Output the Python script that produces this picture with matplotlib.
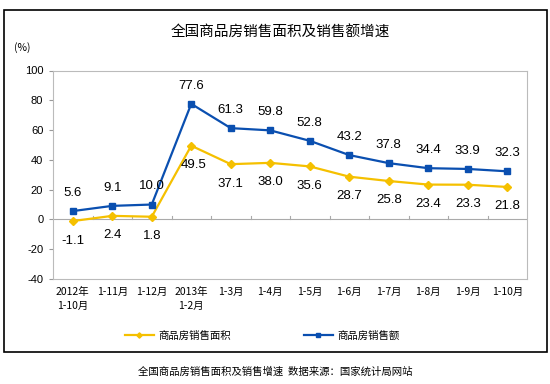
import matplotlib.pyplot as plt
from matplotlib.patches import Rectangle

plt.rcParams['font.family'] = ['Noto Sans CJK SC', 'DejaVu Sans']

# ---------- data ----------
categories = ["2012年\n1-10月", "1-11月", "1-12月", "2013年\n1-2月", "1-3月", "1-4月",
              "1-5月", "1-6月", "1-7月", "1-8月", "1-9月", "1-10月"]
area_growth = [-1.1, 2.4, 1.8, 49.5, 37.1, 38.0, 35.6, 28.7, 25.8, 23.4, 23.3, 21.8]
sales_growth = [5.6, 9.1, 10.0, 77.6, 61.3, 59.8, 52.8, 43.2, 37.8, 34.4, 33.9, 32.3]
yticks = [-40, -20, 0, 20, 40, 60, 80, 100]

YELLOW = "#F5C000"
BLUE = "#0A4FB0"

fig = plt.figure(figsize=(5.5, 3.84), dpi=100)
ax = fig.add_axes([53 / 550, 105 / 384, 474 / 550, 208.5 / 384])

x = list(range(len(categories)))
ax.plot(x, area_growth, color=YELLOW, lw=1.6, marker="D", ms=4.5,
        label="商品房销售面积")
ax.plot(x, sales_growth, color=BLUE, lw=1.6, marker="s", ms=4.5,
        label="商品房销售额")

num_font = ["Liberation Sans", "DejaVu Sans"]
for i, v in enumerate(sales_growth):
    ax.annotate(f"{v:.1f}", (i, v), xytext=(0, 13), textcoords="offset points",
                ha="center", va="center", fontsize=9.5, family=num_font)
for i, v in enumerate(area_growth):
    ax.annotate(f"{v:.1f}", (i, v), xytext=(2 if i == 3 else 0, -14),
                textcoords="offset points", ha="center", va="center",
                fontsize=9.5, family=num_font)

ax.set_xlim(-0.5, len(categories) - 0.5)
ax.set_ylim(-40, 100)
ax.set_yticks(yticks)
ax.set_yticklabels([str(t) for t in yticks], family=num_font, fontsize=8)
ax.tick_params(axis="y", length=3, color="#999999", pad=4)

# zero line with small category ticks
ax.axhline(0, color="#aaaaaa", lw=0.8, zorder=0)
for b in range(1, len(categories)):
    ax.plot([b - 0.5, b - 0.5], [0, 2.5], color="#aaaaaa", lw=0.8, zorder=0)

ax.set_xticks([])
for i, c in enumerate(categories):
    ax.text(i, -45.5, c, ha="center", va="top", fontsize=7.5, linespacing=1.4,
            transform=ax.transData, clip_on=False)

for s in ax.spines.values():
    s.set_color("#bbbbbb")
    s.set_linewidth(0.8)

# outer frame, title, unit, legend, caption
fig.patches.append(Rectangle((4 / 550, 1 - 352 / 384), 543 / 550, 342 / 384,
                             transform=fig.transFigure, fill=False,
                             edgecolor="black", lw=1.2))
fig.text(280 / 550, 1 - 33 / 384, "全国商品房销售面积及销售额增速",
         ha="center", va="center", fontsize=10.5)
fig.text(22 / 550, 1 - 48 / 384, "(%)", ha="center", va="center", fontsize=7.5)
fig.legend(loc="center", bbox_to_anchor=(262 / 550, 1 - 336 / 384), ncol=2,
           frameon=False, fontsize=7.5, columnspacing=7, handlelength=2.8,
           handletextpad=0.4, markerscale=0.6)
fig.text(275 / 550, 1 - 372 / 384, "全国商品房销售面积及销售增速  数据来源：国家统计局网站",
         ha="center", va="center", fontsize=7.5)

fig.savefig("out.png", dpi=100)
